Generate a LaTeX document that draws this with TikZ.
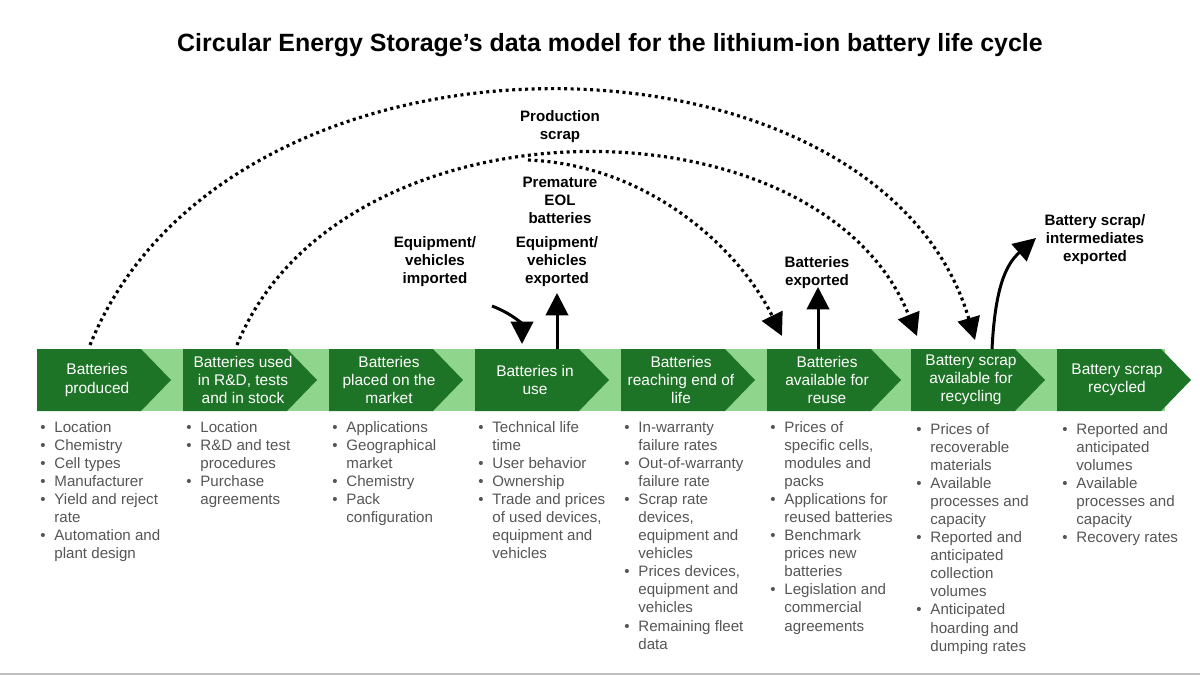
\documentclass[tikz,border=0pt]{standalone}
\usepackage{fontspec}
\setmainfont{Liberation Sans}
\usetikzlibrary{arrows.meta}
\definecolor{dg}{HTML}{1E7426}
\definecolor{lg}{HTML}{8FD68C}
\definecolor{gt}{HTML}{555555}
\begin{document}
\begin{tikzpicture}[x=0.02cm,y=-0.02cm,
 chev/.style={fill=dg,draw=none},
 clab/.style={text=white,align=center,font=\fontsize{8.8}{10.3}\selectfont},
 lab/.style={align=center,font=\bfseries\fontsize{8.6}{10.2}\selectfont},
 blist/.style={anchor=north west,inner sep=0,text=gt,font=\fontsize{8.6}{10.3}\selectfont},
 big/.style={-{Triangle[length=0.45cm,width=0.45cm]},line width=1.7pt},
 dot/.style={big,dotted,line width=1.8pt}]
\useasboundingbox (0,0) rectangle (1200,676);
\draw[gray!50,line width=1pt] (0,674) -- (1200,674);
\node[font=\bfseries\fontsize{14.2}{16}\selectfont] (title) at (610,45) {Circular Energy Storage’s data model for the lithium-ion battery life cycle};
\fill[lg] (37,349) rectangle (1165,411);
\foreach \i/\x in {1/37,2/183,3/329,4/475,5/621,6/767,7/911,8/1057}{
  \fill[chev] (\x,349) -- (\x+104,349) -- (\x+134,380) -- (\x+104,411) -- (\x,411) -- cycle;
  \coordinate (c\i) at (\x+60,380);
}
\node[clab] (n1) at (c1) {Batteries\\produced};
\node[clab] (n2) at (c2) {Batteries used\\in R\&D, tests\\and in stock};
\node[clab] (n3) at (c3) {Batteries\\placed on the\\market};
\node[clab] (n4) at (c4) {Batteries in\\use};
\node[clab] (n5) at (c5) {Batteries\\reaching end of\\life};
\node[clab] (n6) at (c6) {Batteries\\available for\\reuse};
\node[clab] (n7) at (c7) {Battery scrap\\available for\\recycling};
\node[clab] (n8) at (c8) {Battery scrap\\recycled};
\newcommand{\bl}{\textbullet&}
\node[blist] (b1) at (40,419) {\begin{tabular}{@{}l@{\hspace{5pt}}l@{}}\bl Location\\\bl Chemistry\\\bl Cell types\\\bl Manufacturer\\\bl Yield and reject\\& rate\\\bl Automation and\\& plant design\end{tabular}};
\node[blist] (b2) at (186,419) {\begin{tabular}{@{}l@{\hspace{5pt}}l@{}}\bl Location\\\bl R\&D and test\\& procedures\\\bl Purchase\\& agreements\end{tabular}};
\node[blist] (b3) at (332,419) {\begin{tabular}{@{}l@{\hspace{5pt}}l@{}}\bl Applications\\\bl Geographical\\& market\\\bl Chemistry\\\bl Pack\\& configuration\end{tabular}};
\node[blist] (b4) at (478,419) {\begin{tabular}{@{}l@{\hspace{5pt}}l@{}}\bl Technical life\\& time\\\bl User behavior\\\bl Ownership\\\bl Trade and prices\\& of used devices,\\& equipment and\\& vehicles\end{tabular}};
\node[blist] (b5) at (624,419) {\begin{tabular}{@{}l@{\hspace{5pt}}l@{}}\bl In-warranty\\& failure rates\\\bl Out-of-warranty\\& failure rate\\\bl Scrap rate\\& devices,\\& equipment and\\& vehicles\\\bl Prices devices,\\& equipment and\\& vehicles\\\bl Remaining fleet\\& data\end{tabular}};
\node[blist] (b6) at (770,419) {\begin{tabular}{@{}l@{\hspace{5pt}}l@{}}\bl Prices of\\& specific cells,\\& modules and\\& packs\\\bl Applications for\\& reused batteries\\\bl Benchmark\\& prices new\\& batteries\\\bl Legislation and\\& commercial\\& agreements\end{tabular}};
\node[blist] (b7) at (916,421) {\begin{tabular}{@{}l@{\hspace{5pt}}l@{}}\bl Prices of\\& recoverable\\& materials\\\bl Available\\& processes and\\& capacity\\\bl Reported and\\& anticipated\\& collection\\& volumes\\\bl Anticipated\\& hoarding and\\& dumping rates\end{tabular}};
\node[blist] (b8) at (1062,421) {\begin{tabular}{@{}l@{\hspace{5pt}}l@{}}\bl Reported and\\& anticipated\\& volumes\\\bl Available\\& processes and\\& capacity\\\bl Recovery rates\end{tabular}};
% labels
\node[lab] (lps) at (560,127) {Production\\scrap};
\node[lab] (lpe) at (560,200) {Premature\\EOL\\batteries};
\node[lab] (lei) at (435,262) {Equipment/\\vehicles\\imported};
\node[lab] (lee) at (557,262) {Equipment/\\vehicles\\exported};
\node[lab] (lbe) at (817,273) {Batteries\\exported};
\node[lab] (lbs) at (1095,240) {Battery scrap/\\intermediates\\exported};
% coordinates
\coordinate (a1s) at (90,345); \coordinate (a1e) at (975,340);
\coordinate (a2s) at (237,345); \coordinate (a2e) at (917,336);
\coordinate (a3s) at (528,160); \coordinate (a3e) at (782,336);
\coordinate (i1) at (492,306); \coordinate (i2) at (522,344);
\coordinate (e1) at (557,349); \coordinate (e2) at (557,293);
\coordinate (r1) at (818,349); \coordinate (r2) at (818,287);
\coordinate (s1) at (992,349); \coordinate (s2) at (1036,238);
\draw[dot] (a1s) .. controls (230,0) and (880,15) .. (a1e);
\draw[dot] (a2s) .. controls (340,92) and (820,92) .. (a2e);
\draw[dot] (a3s) .. controls (650,165) and (740,250) .. (a3e);
\draw[big] (i1) .. controls (515,315) and (522,325) .. (i2);
\draw[big] (e1) -- (e2);
\draw[big] (r1) -- (r2);
\draw[big] (s1) .. controls (995,290) and (1005,265) .. (s2);
\end{tikzpicture}
\end{document}
